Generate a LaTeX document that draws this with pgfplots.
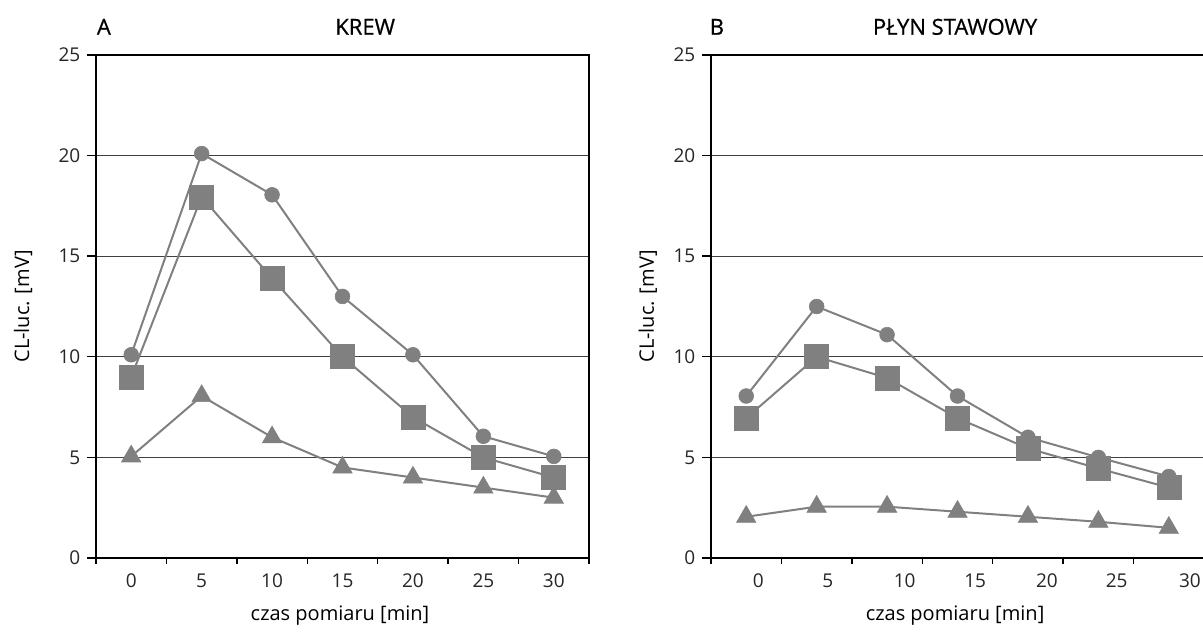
\documentclass[border=0pt]{standalone}
\usepackage{fontspec}
\setmainfont{Open Sans}
\newfontfamily\semib{Open Sans}[FakeBold=0.7]
\usepackage{pgfplots}
\pgfplotsset{compat=1.18}
\definecolor{ser}{HTML}{808080}
\definecolor{grd}{HTML}{404040}
\begin{document}
\begin{tikzpicture}
\path[use as bounding box] (0,0) rectangle (601.5pt,315.5pt);
\pgfplotsset{
  panel/.style={
    scale only axis, width=246.5pt, height=251.5pt, anchor=south west,
    clip=false,
    xmin=-0.5, xmax=6.5, ymin=0, ymax=25,
    ytick={0,5,...,25}, ymajorgrids, grid style={grd, line width=0.65pt},
    axis line style={black, line width=0.9pt},
    tick style={black, line width=0.7pt},
    tick align=outside, xtick pos=bottom, ytick pos=left,
    major tick length=4.3pt,
    minor xtick={-0.5,0.5,...,6.5}, minor tick length=3pt,
    major x tick style={draw=none},
    xticklabels={0,5,10,15,20,25,30},
    /pgf/number format/assume math mode=true,
    tick label style={font=\fontsize{9.5}{11}\selectfont, text=black!85},
    xticklabel style={yshift=0pt},
    label style={font=\semib\fontsize{10.8}{12}\selectfont},
    every axis x label/.style={at={(axis description cs:0.495,-0.115)}, anchor=center},
    xlabel={czas pomiaru [min]},
    ylabel={CL-luc. [mV]},
    every axis plot/.append style={ser, line width=1pt},
  },
  circ/.style={mark=*, mark size=3.7pt, mark options={fill=ser, draw=ser, line width=0.3pt}},
  sq/.style={mark=square*, mark size=6pt, mark options={fill=ser, draw=ser, line width=0.3pt}},
  tri/.style={mark=triangle*, mark size=5.6pt, mark options={fill=ser, draw=ser, line width=0.3pt}},
}
\begin{axis}[panel, at={(48pt,36.5pt)},
  xtick={0,...,6},
  every axis y label/.style={at={(axis description cs:-0.148,0.5)}, rotate=90, anchor=center},
]
\addplot[circ] coordinates {(0,10.1) (1,20.1) (2,18.05) (3,13.0) (4,10.1) (5,6.05) (6,5.05)};
\addplot[sq] coordinates {(0,9.0) (1,17.95) (2,13.9) (3,10.0) (4,7.0) (5,5.0) (6,4.0)};
\addplot[tri] coordinates {(0,5.05) (1,8.05) (2,6.0) (3,4.5) (4,4.0) (5,3.5) (6,3.0)};
\node[font=\semib\fontsize{11}{13}\selectfont, anchor=center] at (axis description cs:0.016,1.056) {A};
\node[font=\semib\fontsize{11}{13}\selectfont, anchor=center] at (axis description cs:0.546,1.056) {KREW};
\end{axis}
\begin{axis}[panel, at={(355.5pt,36.5pt)},
  xtick={0.17,1.16,2.25,3.25,4.27,5.26,6.3},
  every axis y label/.style={at={(axis description cs:-0.128,0.5)}, rotate=90, anchor=center},
]
\addplot[circ] coordinates {(0,8.05) (1,12.5) (2,11.1) (3,8.05) (4,6.0) (5,5.0) (6,4.05)};
\addplot[sq] coordinates {(0,6.95) (1,10.0) (2,8.95) (3,6.95) (4,5.45) (5,4.45) (6,3.5)};
\addplot[tri] coordinates {(0,2.05) (1,2.55) (2,2.55) (3,2.3) (4,2.05) (5,1.8) (6,1.5)};
\node[font=\semib\fontsize{11}{13}\selectfont, anchor=center] at (axis description cs:0.012,1.056) {B};
\node[font=\semib\fontsize{11}{13}\selectfont, anchor=center] at (axis description cs:0.495,1.056) {PŁYN STAWOWY};
\end{axis}
\end{tikzpicture}
\end{document}
